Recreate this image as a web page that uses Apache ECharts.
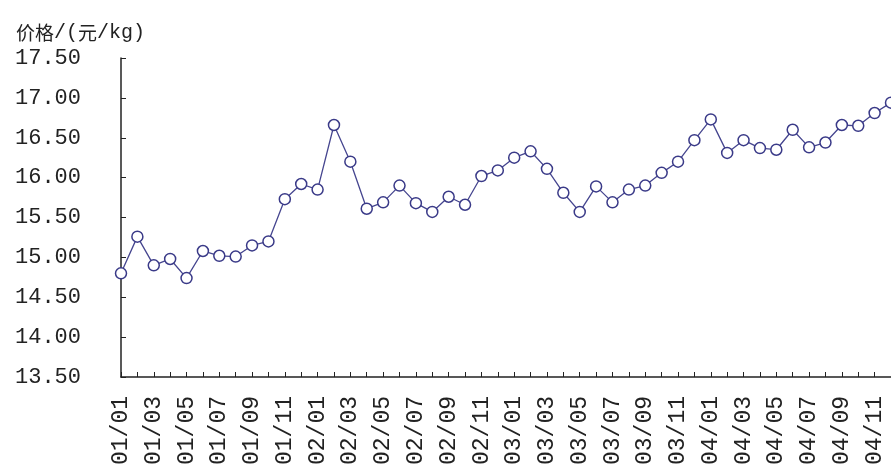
<!DOCTYPE html>
<html>
<head>
<meta charset="utf-8">
<style>
    html, body { margin: 0; padding: 0; background: #fff; }
    #chart { width: 891px; height: 470px; }
</style>
<script src="https://cdn.jsdelivr.net/npm/echarts@6/dist/echarts.min.js"></script>
</head>
<body>
<div id="chart"></div>
<script>
    // months 01/01 .. 04/12
    var months = [];
    ['01', '02', '03', '04'].forEach(function (y) {
        ['01','02','03','04','05','06','07','08','09','10','11','12'].forEach(function (m) {
            months.push(y + '/' + m);
        });
    });

    var prices = [
        14.80, 15.26, 14.90, 14.98, 14.74, 15.08, 15.02, 15.01, 15.15, 15.20, 15.73, 15.92,
        15.85, 16.66, 16.20, 15.61, 15.69, 15.90, 15.68, 15.57, 15.76, 15.66, 16.02, 16.09,
        16.25, 16.33, 16.11, 15.81, 15.57, 15.89, 15.69, 15.85, 15.90, 16.06, 16.20, 16.47,
        16.73, 16.31, 16.47, 16.37, 16.35, 16.60, 16.38, 16.44, 16.66, 16.65, 16.81, 16.94
    ];

    var yMin = 13.5, yMax = 17.5, yStep = 0.5;

    var chart = echarts.init(document.getElementById('chart'));
    var monoFont = '"Liberation Mono", "DejaVu Sans Mono", monospace';
    var cjkFont = '"Noto Sans CJK SC", sans-serif';

    var option = {
        animation: false,
        backgroundColor: '#fff',
        title: {
            text: '{c|价格}{m|/(}{c|元}{m|/kg)}',
            left: 11,
            top: 18,
            textStyle: {
                fontWeight: 'normal',
                rich: {
                    c: { fontFamily: cjkFont, fontSize: 19, fontWeight: 'normal', color: '#222' },
                    m: { fontFamily: monoFont, fontSize: 20, fontWeight: 'normal', color: '#222' }
                }
            }
        },
        grid: {
            left: 121,
            right: 0,
            top: 58,
            bottom: 93
        },
        xAxis: {
            type: 'category',
            boundaryGap: false,
            data: months,
            axisLine: { lineStyle: { color: '#222', width: 1.5 } },
            axisTick: { inside: true, length: 5, interval: 0, lineStyle: { color: '#222' } },
            axisLabel: {
                interval: 1,
                rotate: 90,
                margin: 19,
                color: '#222',
                fontFamily: monoFont,
                fontSize: 23
            },
            splitLine: { show: false }
        },
        yAxis: {
            type: 'value',
            min: yMin,
            max: yMax,
            interval: yStep,
            axisLine: { show: true, lineStyle: { color: '#222', width: 1.5 } },
            axisTick: { show: true, inside: true, length: 5, lineStyle: { color: '#222' } },
            axisLabel: {
                margin: 40,
                color: '#222',
                fontFamily: monoFont,
                fontSize: 22,
                formatter: function (v) { return v.toFixed(2); }
            },
            splitLine: { show: false }
        },
        series: [{
            type: 'line',
            data: prices,
            symbol: 'circle',
            symbolSize: 11,
            showSymbol: true,
            showAllSymbol: true,
            lineStyle: { color: '#45458f', width: 1.3 },
            itemStyle: { color: '#fff', borderColor: '#3a3a88', borderWidth: 1.5 }
        }]
    };

    chart.setOption(option, true);
</script>
</body>
</html>
